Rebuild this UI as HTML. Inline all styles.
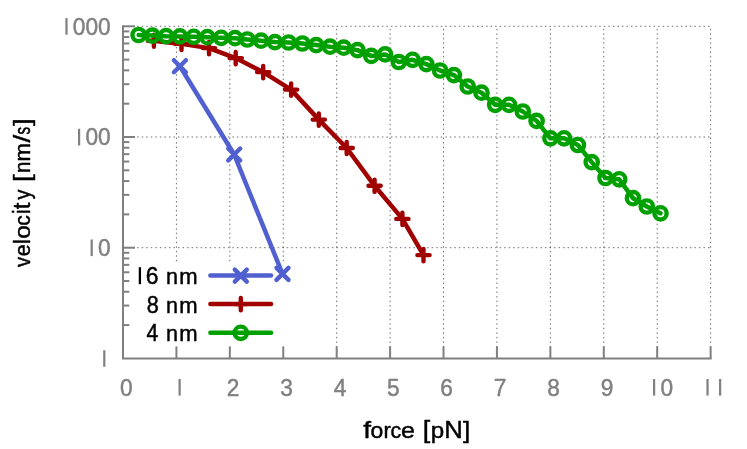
<!DOCTYPE html>
<html><head><meta charset="utf-8"><title>velocity vs force</title>
<style>
html,body{margin:0;padding:0;background:#fff;}
body{width:747px;height:449px;overflow:hidden;}
svg{display:block;will-change:transform;}
text{font-family:"Liberation Sans",sans-serif;}
</style></head>
<body>
<svg width="747" height="449" viewBox="0 0 747 449">
<rect x="0" y="0" width="747" height="449" fill="#ffffff"/>
<g stroke="#000" stroke-width="1" fill="none" stroke-dasharray="1.5 3.03" stroke-opacity="0.56">
<line x1="176.42" y1="26.30" x2="176.42" y2="358.40" stroke-dashoffset="-2.5"/>
<line x1="229.84" y1="26.30" x2="229.84" y2="358.40" stroke-dashoffset="-2.5"/>
<line x1="283.26" y1="26.30" x2="283.26" y2="358.40" stroke-dashoffset="-2.5"/>
<line x1="336.68" y1="26.30" x2="336.68" y2="358.40" stroke-dashoffset="-2.5"/>
<line x1="390.10" y1="26.30" x2="390.10" y2="358.40" stroke-dashoffset="-2.5"/>
<line x1="443.52" y1="26.30" x2="443.52" y2="358.40" stroke-dashoffset="-2.5"/>
<line x1="496.94" y1="26.30" x2="496.94" y2="358.40" stroke-dashoffset="-2.5"/>
<line x1="550.36" y1="26.30" x2="550.36" y2="358.40" stroke-dashoffset="-2.5"/>
<line x1="603.78" y1="26.30" x2="603.78" y2="358.40" stroke-dashoffset="-2.5"/>
<line x1="657.20" y1="26.30" x2="657.20" y2="358.40" stroke-dashoffset="-2.5"/>
<line x1="710.62" y1="26.30" x2="710.62" y2="358.40" stroke-dashoffset="-2.5"/>
<line x1="123.00" y1="26.30" x2="710.62" y2="26.30" stroke-dashoffset="-0.64"/>
<line x1="123.00" y1="137.00" x2="710.62" y2="137.00" stroke-dashoffset="-0.64"/>
<line x1="123.00" y1="247.70" x2="710.62" y2="247.70" stroke-dashoffset="-0.64"/>
</g>
<rect x="124.5" y="262" width="167" height="95" fill="#fff"/>
<line x1="210.4" y1="275.6" x2="271.0" y2="275.6" stroke="#5060d0" stroke-width="4.5" stroke-linecap="round"/>
<polyline points="179.9,66.2 234.2,154.5 282.5,273.9" fill="none" stroke="#5060d0" stroke-width="4.5" stroke-linejoin="round" stroke-linecap="round"/>
<path d="M234.8,269.6L246.8,281.6M234.8,281.6L246.8,269.6" stroke="#5060d0" stroke-width="4.4" stroke-linecap="round" fill="none"/>
<path d="M173.9,60.2L185.9,72.2M173.9,72.2L185.9,60.2" stroke="#5060d0" stroke-width="4.4" stroke-linecap="round" fill="none"/>
<path d="M228.2,148.5L240.2,160.5M228.2,160.5L240.2,148.5" stroke="#5060d0" stroke-width="4.4" stroke-linecap="round" fill="none"/>
<path d="M276.5,267.9L288.5,279.9M276.5,279.9L288.5,267.9" stroke="#5060d0" stroke-width="4.4" stroke-linecap="round" fill="none"/>
<line x1="210.4" y1="304.1" x2="271.0" y2="304.1" stroke="#a00000" stroke-width="4.5" stroke-linecap="round"/>
<polyline points="153.9,40.7 181.5,43.9 209.0,48.1 235.7,58.1 263.2,72.1 291.1,89.6 318.8,119.6 346.7,148.0 374.6,185.8 402.4,218.9 423.5,255.1" fill="none" stroke="#a00000" stroke-width="4.5" stroke-linejoin="round" stroke-linecap="round"/>
<path d="M234.7,304.1L246.9,304.1M240.8,298.0L240.8,310.2" stroke="#a00000" stroke-width="4.4" stroke-linecap="round" fill="none"/>
<path d="M147.8,40.7L160.0,40.7M153.9,34.6L153.9,46.8" stroke="#a00000" stroke-width="4.4" stroke-linecap="round" fill="none"/>
<path d="M175.4,43.9L187.6,43.9M181.5,37.8L181.5,50.0" stroke="#a00000" stroke-width="4.4" stroke-linecap="round" fill="none"/>
<path d="M202.9,48.1L215.1,48.1M209.0,42.0L209.0,54.2" stroke="#a00000" stroke-width="4.4" stroke-linecap="round" fill="none"/>
<path d="M229.6,58.1L241.8,58.1M235.7,52.0L235.7,64.2" stroke="#a00000" stroke-width="4.4" stroke-linecap="round" fill="none"/>
<path d="M257.1,72.1L269.3,72.1M263.2,66.0L263.2,78.2" stroke="#a00000" stroke-width="4.4" stroke-linecap="round" fill="none"/>
<path d="M285.0,89.6L297.2,89.6M291.1,83.5L291.1,95.7" stroke="#a00000" stroke-width="4.4" stroke-linecap="round" fill="none"/>
<path d="M312.7,119.6L324.9,119.6M318.8,113.5L318.8,125.7" stroke="#a00000" stroke-width="4.4" stroke-linecap="round" fill="none"/>
<path d="M340.6,148.0L352.8,148.0M346.7,141.9L346.7,154.1" stroke="#a00000" stroke-width="4.4" stroke-linecap="round" fill="none"/>
<path d="M368.5,185.8L380.7,185.8M374.6,179.7L374.6,191.9" stroke="#a00000" stroke-width="4.4" stroke-linecap="round" fill="none"/>
<path d="M396.3,218.9L408.5,218.9M402.4,212.8L402.4,225.0" stroke="#a00000" stroke-width="4.4" stroke-linecap="round" fill="none"/>
<path d="M417.4,255.1L429.6,255.1M423.5,249.0L423.5,261.2" stroke="#a00000" stroke-width="4.4" stroke-linecap="round" fill="none"/>
<line x1="210.4" y1="332.8" x2="271.0" y2="332.8" stroke="#00a000" stroke-width="4.5" stroke-linecap="round"/>
<polyline points="138.6,35.0 152.4,35.6 166.1,36.2 179.9,36.4 193.7,36.8 207.4,37.2 221.2,37.8 235.0,38.2 247.3,39.5 261.1,40.7 274.9,42.1 288.6,42.5 302.4,43.5 316.2,45.1 330.0,46.7 343.7,47.7 357.5,50.1 371.3,55.9 385.1,54.4 398.8,62.0 412.6,59.8 426.4,64.1 440.1,70.5 453.9,75.1 467.7,86.5 481.5,92.7 495.2,104.8 509.0,104.8 522.8,111.5 536.6,120.9 550.4,138.3 564.1,138.3 577.9,145.0 591.7,162.1 605.5,178.0 619.2,179.3 633.0,198.2 646.8,206.5 660.5,213.3" fill="none" stroke="#00a000" stroke-width="4.5" stroke-linejoin="round" stroke-linecap="round"/>
<circle cx="240.8" cy="332.8" r="6.15" stroke="#00a000" stroke-width="4.4" fill="none"/>
<circle cx="138.6" cy="35.0" r="6.15" stroke="#00a000" stroke-width="4.4" fill="none"/>
<circle cx="152.4" cy="35.6" r="6.15" stroke="#00a000" stroke-width="4.4" fill="none"/>
<circle cx="166.1" cy="36.2" r="6.15" stroke="#00a000" stroke-width="4.4" fill="none"/>
<circle cx="179.9" cy="36.4" r="6.15" stroke="#00a000" stroke-width="4.4" fill="none"/>
<circle cx="193.7" cy="36.8" r="6.15" stroke="#00a000" stroke-width="4.4" fill="none"/>
<circle cx="207.4" cy="37.2" r="6.15" stroke="#00a000" stroke-width="4.4" fill="none"/>
<circle cx="221.2" cy="37.8" r="6.15" stroke="#00a000" stroke-width="4.4" fill="none"/>
<circle cx="235.0" cy="38.2" r="6.15" stroke="#00a000" stroke-width="4.4" fill="none"/>
<circle cx="247.3" cy="39.5" r="6.15" stroke="#00a000" stroke-width="4.4" fill="none"/>
<circle cx="261.1" cy="40.7" r="6.15" stroke="#00a000" stroke-width="4.4" fill="none"/>
<circle cx="274.9" cy="42.1" r="6.15" stroke="#00a000" stroke-width="4.4" fill="none"/>
<circle cx="288.6" cy="42.5" r="6.15" stroke="#00a000" stroke-width="4.4" fill="none"/>
<circle cx="302.4" cy="43.5" r="6.15" stroke="#00a000" stroke-width="4.4" fill="none"/>
<circle cx="316.2" cy="45.1" r="6.15" stroke="#00a000" stroke-width="4.4" fill="none"/>
<circle cx="330.0" cy="46.7" r="6.15" stroke="#00a000" stroke-width="4.4" fill="none"/>
<circle cx="343.7" cy="47.7" r="6.15" stroke="#00a000" stroke-width="4.4" fill="none"/>
<circle cx="357.5" cy="50.1" r="6.15" stroke="#00a000" stroke-width="4.4" fill="none"/>
<circle cx="371.3" cy="55.9" r="6.15" stroke="#00a000" stroke-width="4.4" fill="none"/>
<circle cx="385.1" cy="54.4" r="6.15" stroke="#00a000" stroke-width="4.4" fill="none"/>
<circle cx="398.8" cy="62.0" r="6.15" stroke="#00a000" stroke-width="4.4" fill="none"/>
<circle cx="412.6" cy="59.8" r="6.15" stroke="#00a000" stroke-width="4.4" fill="none"/>
<circle cx="426.4" cy="64.1" r="6.15" stroke="#00a000" stroke-width="4.4" fill="none"/>
<circle cx="440.1" cy="70.5" r="6.15" stroke="#00a000" stroke-width="4.4" fill="none"/>
<circle cx="453.9" cy="75.1" r="6.15" stroke="#00a000" stroke-width="4.4" fill="none"/>
<circle cx="467.7" cy="86.5" r="6.15" stroke="#00a000" stroke-width="4.4" fill="none"/>
<circle cx="481.5" cy="92.7" r="6.15" stroke="#00a000" stroke-width="4.4" fill="none"/>
<circle cx="495.2" cy="104.8" r="6.15" stroke="#00a000" stroke-width="4.4" fill="none"/>
<circle cx="509.0" cy="104.8" r="6.15" stroke="#00a000" stroke-width="4.4" fill="none"/>
<circle cx="522.8" cy="111.5" r="6.15" stroke="#00a000" stroke-width="4.4" fill="none"/>
<circle cx="536.6" cy="120.9" r="6.15" stroke="#00a000" stroke-width="4.4" fill="none"/>
<circle cx="550.4" cy="138.3" r="6.15" stroke="#00a000" stroke-width="4.4" fill="none"/>
<circle cx="564.1" cy="138.3" r="6.15" stroke="#00a000" stroke-width="4.4" fill="none"/>
<circle cx="577.9" cy="145.0" r="6.15" stroke="#00a000" stroke-width="4.4" fill="none"/>
<circle cx="591.7" cy="162.1" r="6.15" stroke="#00a000" stroke-width="4.4" fill="none"/>
<circle cx="605.5" cy="178.0" r="6.15" stroke="#00a000" stroke-width="4.4" fill="none"/>
<circle cx="619.2" cy="179.3" r="6.15" stroke="#00a000" stroke-width="4.4" fill="none"/>
<circle cx="633.0" cy="198.2" r="6.15" stroke="#00a000" stroke-width="4.4" fill="none"/>
<circle cx="646.8" cy="206.5" r="6.15" stroke="#00a000" stroke-width="4.4" fill="none"/>
<circle cx="660.5" cy="213.3" r="6.15" stroke="#00a000" stroke-width="4.4" fill="none"/>
<g stroke="#808080" stroke-width="2" fill="none" stroke-linecap="butt">
<path d="M123.00,25.30V358.40H711.62" stroke-linejoin="miter"/>
<line x1="123.00" y1="325.08" x2="129.30" y2="325.08" stroke-width="2"/>
<line x1="123.00" y1="305.58" x2="129.30" y2="305.58" stroke-width="2"/>
<line x1="123.00" y1="291.75" x2="129.30" y2="291.75" stroke-width="2"/>
<line x1="123.00" y1="281.02" x2="129.30" y2="281.02" stroke-width="2"/>
<line x1="123.00" y1="272.26" x2="129.30" y2="272.26" stroke-width="2"/>
<line x1="123.00" y1="264.85" x2="129.30" y2="264.85" stroke-width="2"/>
<line x1="123.00" y1="258.43" x2="129.30" y2="258.43" stroke-width="2"/>
<line x1="123.00" y1="252.77" x2="129.30" y2="252.77" stroke-width="2"/>
<line x1="123.00" y1="247.70" x2="135.00" y2="247.70" stroke-width="2"/>
<line x1="123.00" y1="214.38" x2="129.30" y2="214.38" stroke-width="2"/>
<line x1="123.00" y1="194.88" x2="129.30" y2="194.88" stroke-width="2"/>
<line x1="123.00" y1="181.05" x2="129.30" y2="181.05" stroke-width="2"/>
<line x1="123.00" y1="170.32" x2="129.30" y2="170.32" stroke-width="2"/>
<line x1="123.00" y1="161.56" x2="129.30" y2="161.56" stroke-width="2"/>
<line x1="123.00" y1="154.15" x2="129.30" y2="154.15" stroke-width="2"/>
<line x1="123.00" y1="147.73" x2="129.30" y2="147.73" stroke-width="2"/>
<line x1="123.00" y1="142.07" x2="129.30" y2="142.07" stroke-width="2"/>
<line x1="123.00" y1="137.00" x2="135.00" y2="137.00" stroke-width="2"/>
<line x1="123.00" y1="103.68" x2="129.30" y2="103.68" stroke-width="2"/>
<line x1="123.00" y1="84.18" x2="129.30" y2="84.18" stroke-width="2"/>
<line x1="123.00" y1="70.35" x2="129.30" y2="70.35" stroke-width="2"/>
<line x1="123.00" y1="59.62" x2="129.30" y2="59.62" stroke-width="2"/>
<line x1="123.00" y1="50.86" x2="129.30" y2="50.86" stroke-width="2"/>
<line x1="123.00" y1="43.45" x2="129.30" y2="43.45" stroke-width="2"/>
<line x1="123.00" y1="37.03" x2="129.30" y2="37.03" stroke-width="2"/>
<line x1="123.00" y1="31.37" x2="129.30" y2="31.37" stroke-width="2"/>
<line x1="123.00" y1="26.30" x2="135.00" y2="26.30" stroke-width="2"/>
<line x1="176.42" y1="358.40" x2="176.42" y2="346.40" stroke-width="2"/>
<line x1="229.84" y1="358.40" x2="229.84" y2="346.40" stroke-width="2"/>
<line x1="283.26" y1="358.40" x2="283.26" y2="346.40" stroke-width="2"/>
<line x1="336.68" y1="358.40" x2="336.68" y2="346.40" stroke-width="2"/>
<line x1="390.10" y1="358.40" x2="390.10" y2="346.40" stroke-width="2"/>
<line x1="443.52" y1="358.40" x2="443.52" y2="346.40" stroke-width="2"/>
<line x1="496.94" y1="358.40" x2="496.94" y2="346.40" stroke-width="2"/>
<line x1="550.36" y1="358.40" x2="550.36" y2="346.40" stroke-width="2"/>
<line x1="603.78" y1="358.40" x2="603.78" y2="346.40" stroke-width="2"/>
<line x1="657.20" y1="358.40" x2="657.20" y2="346.40" stroke-width="2"/>
<line x1="710.62" y1="358.40" x2="710.62" y2="346.40" stroke-width="2"/>
</g>
<rect x="65.40" y="18.10" width="2.2" height="16.6" fill="#808080"/>
<text transform="translate(72.79,34.70) scale(0.9784,1.0000)" font-size="23.2" fill="#808080" stroke="#808080" stroke-width="0.45" vector-effect="non-scaling-stroke" stroke-linejoin="round">0</text>
<text transform="translate(85.39,34.70) scale(0.9784,1.0000)" font-size="23.2" fill="#808080" stroke="#808080" stroke-width="0.45" vector-effect="non-scaling-stroke" stroke-linejoin="round">0</text>
<text transform="translate(97.99,34.70) scale(0.9784,1.0000)" font-size="23.2" fill="#808080" stroke="#808080" stroke-width="0.45" vector-effect="non-scaling-stroke" stroke-linejoin="round">0</text>
<rect x="78.00" y="128.80" width="2.2" height="16.6" fill="#808080"/>
<text transform="translate(85.39,145.40) scale(0.9784,1.0000)" font-size="23.2" fill="#808080" stroke="#808080" stroke-width="0.45" vector-effect="non-scaling-stroke" stroke-linejoin="round">0</text>
<text transform="translate(97.99,145.40) scale(0.9784,1.0000)" font-size="23.2" fill="#808080" stroke="#808080" stroke-width="0.45" vector-effect="non-scaling-stroke" stroke-linejoin="round">0</text>
<rect x="90.60" y="239.50" width="2.2" height="16.6" fill="#808080"/>
<text transform="translate(97.99,256.10) scale(0.9784,1.0000)" font-size="23.2" fill="#808080" stroke="#808080" stroke-width="0.45" vector-effect="non-scaling-stroke" stroke-linejoin="round">0</text>
<rect x="103.20" y="350.20" width="2.2" height="16.6" fill="#808080"/>
<text transform="translate(119.89,395.60) scale(0.9784,1.0000)" font-size="23.2" fill="#808080" stroke="#808080" stroke-width="0.45" vector-effect="non-scaling-stroke" stroke-linejoin="round">0</text>
<rect x="178.52" y="379.00" width="2.2" height="16.6" fill="#808080"/>
<text transform="translate(226.73,395.60) scale(0.9784,1.0000)" font-size="23.2" fill="#808080" stroke="#808080" stroke-width="0.45" vector-effect="non-scaling-stroke" stroke-linejoin="round">2</text>
<text transform="translate(280.21,395.60) scale(0.9784,1.0000)" font-size="23.2" fill="#808080" stroke="#808080" stroke-width="0.45" vector-effect="non-scaling-stroke" stroke-linejoin="round">3</text>
<text transform="translate(333.64,395.60) scale(0.9784,1.0000)" font-size="23.2" fill="#808080" stroke="#808080" stroke-width="0.45" vector-effect="non-scaling-stroke" stroke-linejoin="round">4</text>
<text transform="translate(387.01,395.60) scale(0.9784,1.0000)" font-size="23.2" fill="#808080" stroke="#808080" stroke-width="0.45" vector-effect="non-scaling-stroke" stroke-linejoin="round">5</text>
<text transform="translate(440.33,395.60) scale(0.9784,1.0000)" font-size="23.2" fill="#808080" stroke="#808080" stroke-width="0.45" vector-effect="non-scaling-stroke" stroke-linejoin="round">6</text>
<text transform="translate(493.82,395.60) scale(0.9784,1.0000)" font-size="23.2" fill="#808080" stroke="#808080" stroke-width="0.45" vector-effect="non-scaling-stroke" stroke-linejoin="round">7</text>
<text transform="translate(547.25,395.60) scale(0.9784,1.0000)" font-size="23.2" fill="#808080" stroke="#808080" stroke-width="0.45" vector-effect="non-scaling-stroke" stroke-linejoin="round">8</text>
<text transform="translate(600.67,395.60) scale(0.9784,1.0000)" font-size="23.2" fill="#808080" stroke="#808080" stroke-width="0.45" vector-effect="non-scaling-stroke" stroke-linejoin="round">9</text>
<rect x="653.00" y="379.00" width="2.2" height="16.6" fill="#808080"/>
<text transform="translate(660.39,395.60) scale(0.9784,1.0000)" font-size="23.2" fill="#808080" stroke="#808080" stroke-width="0.45" vector-effect="non-scaling-stroke" stroke-linejoin="round">0</text>
<rect x="706.42" y="379.00" width="2.2" height="16.6" fill="#808080"/>
<rect x="719.02" y="379.00" width="2.2" height="16.6" fill="#808080"/>
<rect x="138.75" y="267.20" width="2.3" height="17.0" fill="#000"/>
<text transform="translate(145.86,284.20) scale(0.9729,1.0000)" font-size="23.5" fill="#000" stroke="#000" stroke-width="0.45" vector-effect="non-scaling-stroke" stroke-linejoin="round">6</text>
<text transform="translate(165.99,284.20) scale(0.9166,0.9150)" font-size="23.5" fill="#000" stroke="#000" stroke-width="0.45" vector-effect="non-scaling-stroke" stroke-linejoin="round">n</text><text transform="translate(179.16,284.20) scale(0.9383,0.9150)" font-size="23.5" fill="#000" stroke="#000" stroke-width="0.45" vector-effect="non-scaling-stroke" stroke-linejoin="round">m</text>
<text transform="translate(146.68,312.70) scale(0.9205,1.0000)" font-size="23.5" fill="#000" stroke="#000" stroke-width="0.45" vector-effect="non-scaling-stroke" stroke-linejoin="round">8</text>
<text transform="translate(165.99,312.70) scale(0.9166,0.9150)" font-size="23.5" fill="#000" stroke="#000" stroke-width="0.45" vector-effect="non-scaling-stroke" stroke-linejoin="round">n</text><text transform="translate(179.16,312.70) scale(0.9383,0.9150)" font-size="23.5" fill="#000" stroke="#000" stroke-width="0.45" vector-effect="non-scaling-stroke" stroke-linejoin="round">m</text>
<text transform="translate(146.44,341.20) scale(0.8994,1.0000)" font-size="23.5" fill="#000" stroke="#000" stroke-width="0.45" vector-effect="non-scaling-stroke" stroke-linejoin="round">4</text>
<text transform="translate(165.99,341.20) scale(0.9166,0.9150)" font-size="23.5" fill="#000" stroke="#000" stroke-width="0.45" vector-effect="non-scaling-stroke" stroke-linejoin="round">n</text><text transform="translate(179.16,341.20) scale(0.9383,0.9150)" font-size="23.5" fill="#000" stroke="#000" stroke-width="0.45" vector-effect="non-scaling-stroke" stroke-linejoin="round">m</text>
<text transform="translate(363.23,438.00) scale(1.1957,1.0000)" font-size="23.5" fill="#000" stroke="#000" stroke-width="0.45" vector-effect="non-scaling-stroke" stroke-linejoin="round">f</text>
<text transform="translate(370.56,438.00) scale(0.9778,0.9150)" font-size="23.5" fill="#000" stroke="#000" stroke-width="0.45" vector-effect="non-scaling-stroke" stroke-linejoin="round">o</text>
<text transform="translate(383.45,438.00) scale(0.9447,0.9150)" font-size="23.5" fill="#000" stroke="#000" stroke-width="0.45" vector-effect="non-scaling-stroke" stroke-linejoin="round">r</text>
<text transform="translate(390.41,438.00) scale(0.9129,0.9150)" font-size="23.5" fill="#000" stroke="#000" stroke-width="0.45" vector-effect="non-scaling-stroke" stroke-linejoin="round">c</text>
<text transform="translate(401.06,438.00) scale(1.0656,0.9150)" font-size="23.5" fill="#000" stroke="#000" stroke-width="0.45" vector-effect="non-scaling-stroke" stroke-linejoin="round">e</text>
<text transform="translate(422.71,438.00) scale(1.1456,1.0000)" font-size="23.5" fill="#000" stroke="#000" stroke-width="0.45" vector-effect="non-scaling-stroke" stroke-linejoin="round">[</text>
<text transform="translate(430.77,438.00) scale(1.0267,0.9150)" font-size="23.5" fill="#000" stroke="#000" stroke-width="0.45" vector-effect="non-scaling-stroke" stroke-linejoin="round">p</text>
<text transform="translate(444.32,438.00) scale(1.0932,1.0000)" font-size="23.5" fill="#000" stroke="#000" stroke-width="0.45" vector-effect="non-scaling-stroke" stroke-linejoin="round">N</text>
<text transform="translate(463.02,438.00) scale(1.1242,1.0000)" font-size="23.5" fill="#000" stroke="#000" stroke-width="0.45" vector-effect="non-scaling-stroke" stroke-linejoin="round">]</text>
<text transform="translate(30.00,266.94) rotate(-90) scale(0.8672,0.9150)" font-size="23.5" fill="#000" stroke="#000" stroke-width="0.45" vector-effect="non-scaling-stroke" stroke-linejoin="round">v</text>
<text transform="translate(30.00,256.28) rotate(-90) scale(0.9114,0.9150)" font-size="23.5" fill="#000" stroke="#000" stroke-width="0.45" vector-effect="non-scaling-stroke" stroke-linejoin="round">e</text>
<text transform="translate(30.00,243.99) rotate(-90) scale(0.8957,1.0000)" font-size="23.5" fill="#000" stroke="#000" stroke-width="0.45" vector-effect="non-scaling-stroke" stroke-linejoin="round">l</text>
<text transform="translate(30.00,238.80) rotate(-90) scale(1.0409,0.9150)" font-size="23.5" fill="#000" stroke="#000" stroke-width="0.45" vector-effect="non-scaling-stroke" stroke-linejoin="round">o</text>
<text transform="translate(30.00,225.77) rotate(-90) scale(0.8932,0.9150)" font-size="23.5" fill="#000" stroke="#000" stroke-width="0.45" vector-effect="non-scaling-stroke" stroke-linejoin="round">c</text>
<text transform="translate(30.00,213.73) rotate(-90) scale(0.7989,1.0000)" font-size="23.5" fill="#000" stroke="#000" stroke-width="0.45" vector-effect="non-scaling-stroke" stroke-linejoin="round">i</text>
<text transform="translate(30.00,209.24) rotate(-90) scale(1.0248,1.0000)" font-size="23.5" fill="#000" stroke="#000" stroke-width="0.45" vector-effect="non-scaling-stroke" stroke-linejoin="round">t</text>
<text transform="translate(30.00,199.62) rotate(-90) scale(0.8457,0.9150)" font-size="23.5" fill="#000" stroke="#000" stroke-width="0.45" vector-effect="non-scaling-stroke" stroke-linejoin="round">y</text>
<text transform="translate(30.00,182.03) rotate(-90) scale(1.1670,1.0000)" font-size="23.5" fill="#000" stroke="#000" stroke-width="0.45" vector-effect="non-scaling-stroke" stroke-linejoin="round">[</text>
<text transform="translate(30.00,173.04) rotate(-90) scale(0.8765,0.9150)" font-size="23.5" fill="#000" stroke="#000" stroke-width="0.45" vector-effect="non-scaling-stroke" stroke-linejoin="round">n</text>
<text transform="translate(30.00,161.44) rotate(-90) scale(0.9383,0.9150)" font-size="23.5" fill="#000" stroke="#000" stroke-width="0.45" vector-effect="non-scaling-stroke" stroke-linejoin="round">m</text>
<text transform="translate(30.00,142.38) rotate(-90) scale(1.1870,1.0000)" font-size="23.5" fill="#000" stroke="#000" stroke-width="0.45" vector-effect="non-scaling-stroke" stroke-linejoin="round">/</text>
<text transform="translate(30.00,134.40) rotate(-90) scale(0.6490,0.9150)" font-size="23.5" fill="#000" stroke="#000" stroke-width="0.45" vector-effect="non-scaling-stroke" stroke-linejoin="round">s</text>
<text transform="translate(30.00,125.89) rotate(-90) scale(1.1670,1.0000)" font-size="23.5" fill="#000" stroke="#000" stroke-width="0.45" vector-effect="non-scaling-stroke" stroke-linejoin="round">]</text>
</svg>
</body></html>
